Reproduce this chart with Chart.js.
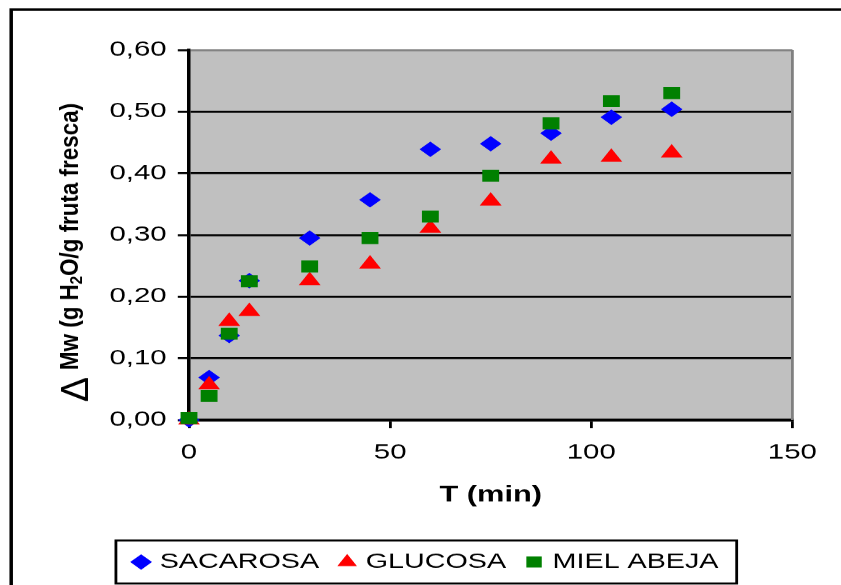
<!DOCTYPE html>
<html>
<head>
<meta charset="utf-8">
<script src="https://cdn.jsdelivr.net/npm/chart.js@4.4.1/dist/chart.umd.min.js"></script>
<style>
html, body { margin: 0; padding: 0; background: #fff; }
#grafico { display: block; }
</style>
</head>
<body>
<canvas id="grafico" width="601" height="585" style="width:841px;height:585px"></canvas>
<script>
// tiempo de deshidratación osmótica (min) y ganancia de agua perdida por soluto
const tiempos = [0, 5, 10, 15, 30, 45, 60, 75, 90, 105, 120];
const sacarosa = [0.000, 0.069, 0.137, 0.226, 0.295, 0.357, 0.439, 0.448, 0.465, 0.491, 0.504];
const glucosa = [0.000, 0.057, 0.160, 0.176, 0.226, 0.253, 0.311, 0.355, 0.423, 0.426, 0.433];
const mielAbeja = [0.003, 0.039, 0.140, 0.225, 0.249, 0.295, 0.330, 0.396, 0.481, 0.517, 0.530];

const ticksX = [0, 50, 100, 150];
const ticksY = [0, 0.1, 0.2, 0.3, 0.4, 0.5, 0.6];

const fuente = 'Arial, "Liberation Sans", sans-serif';

function puntos(valores) {
  return tiempos.map((t, i) => ({ x: t, y: valores[i] }));
}

// fondo gris, bordes, marco de la leyenda y título del eje Y
const marco = {
  id: 'marco',
  beforeDraw(chart) {
    const { ctx, chartArea: a } = chart;
    ctx.save();
    ctx.fillStyle = '#c0c0c0';
    ctx.fillRect(a.left, a.top, a.right - a.left, a.bottom - a.top);
    ctx.restore();
  },
  afterDraw(chart) {
    const { ctx, chartArea: a, legend } = chart;
    ctx.save();

    ctx.strokeStyle = '#808080';
    ctx.lineWidth = 2;
    ctx.beginPath();
    ctx.moveTo(a.right, a.top);
    ctx.lineTo(a.right, a.bottom);
    ctx.stroke();

    ctx.strokeStyle = '#000';
    ctx.lineWidth = 2.5;
    ctx.beginPath();
    ctx.moveTo(8, chart.height);
    ctx.lineTo(8, 9.5);
    ctx.lineTo(chart.width, 9.5);
    ctx.stroke();

    const cajas = legend.legendHitBoxes;
    const izq = Math.min(...cajas.map(c => c.left)) - 15;
    const der = Math.max(...cajas.map(c => c.left + c.width)) + 13;
    const cy = cajas[0].top + cajas[0].height / 2;
    ctx.lineWidth = 2;
    ctx.strokeRect(izq, cy - 21.5, der - izq, 43);

    ctx.fillStyle = '#000';
    ctx.textBaseline = 'alphabetic';
    ctx.textAlign = 'left';

    ctx.save();
    ctx.translate(63, a.bottom - 18);
    ctx.rotate(-Math.PI / 2);
    ctx.font = '28px ' + fuente;
    ctx.scale(25 / ctx.measureText('Δ').width, 1);
    ctx.fillText('Δ', 0, 0);
    ctx.restore();

    ctx.save();
    ctx.translate(55.7, a.bottom - 50);
    ctx.rotate(-Math.PI / 2);
    const partes = [
      ['Mw (g H', 'bold 18px ' + fuente, 0],
      ['2', 'bold 12px ' + fuente, 3],
      ['O/g fruta fresca)', 'bold 18px ' + fuente, 0]
    ];
    let total = 0;
    partes.forEach(p => { ctx.font = p[1]; total += ctx.measureText(p[0]).width; });
    ctx.scale(267 / total, 1);
    let x = 0;
    partes.forEach(p => {
      ctx.font = p[1];
      ctx.fillText(p[0], x, p[2]);
      x += ctx.measureText(p[0]).width;
    });
    ctx.restore();

    ctx.restore();
  }
};

new Chart(document.getElementById('grafico'), {
  type: 'scatter',
  data: {
    datasets: [
      {
        label: 'SACAROSA',
        data: puntos(sacarosa),
        pointStyle: 'rectRot',
        pointRadius: 7,
        backgroundColor: '#0000ff',
        borderColor: '#0000ff',
        borderWidth: 1,
        order: 3,
        clip: false
      },
      {
        label: 'GLUCOSA',
        data: puntos(glucosa),
        pointStyle: 'triangle',
        pointRadius: 8,
        backgroundColor: '#ff0000',
        borderColor: '#ff0000',
        borderWidth: 1,
        order: 2,
        clip: false
      },
      {
        label: 'MIEL ABEJA',
        data: puntos(mielAbeja),
        pointStyle: 'rect',
        pointRadius: 7.8,
        backgroundColor: '#008000',
        borderColor: '#008000',
        borderWidth: 1,
        order: 1,
        clip: false
      }
    ]
  },
  options: {
    responsive: false,
    devicePixelRatio: 1.4,
    animation: false,
    layout: { padding: { left: 45, right: 35, top: 50, bottom: 2.75 } },
    plugins: {
      tooltip: { enabled: false },
      legend: {
        position: 'bottom',
        labels: {
          usePointStyle: true,
          boxWidth: 6,
          boxHeight: 10,
          padding: 17,
          color: '#000',
          font: { family: fuente, size: 20.5 },
          sort: (a, b) => a.datasetIndex - b.datasetIndex
        }
      }
    },
    scales: {
      x: {
        type: 'linear',
        min: 0,
        max: 150,
        afterFit: s => { s.height = 114.75; },
        afterBuildTicks: s => { s.ticks = ticksX.map(v => ({ value: v })); },
        ticks: { color: '#000', font: { family: fuente, size: 21 }, padding: 12, maxRotation: 0 },
        grid: { drawOnChartArea: false, color: '#000', lineWidth: 2, tickLength: 8 },
        border: { color: '#000', width: 3 },
        title: {
          display: true,
          text: 'T (min)',
          color: '#000',
          font: { family: fuente, size: 22, weight: 'bold' },
          padding: { top: 0, bottom: 26.5 }
        }
      },
      y: {
        type: 'linear',
        min: 0,
        max: 0.6,
        afterFit: s => { s.width = 90; },
        afterBuildTicks: s => { s.ticks = ticksY.map(v => ({ value: v })); },
        ticks: {
          color: '#000',
          font: { family: fuente, size: 21 },
          padding: 8,
          callback: v => v.toFixed(2).replace('.', ',')
        },
        grid: {
          color: c => (c.tick && Math.abs(c.tick.value - 0.6) < 1e-9 ? '#808080' : '#000'),
          tickColor: '#000',
          lineWidth: 2,
          tickLength: 8
        },
        border: { color: '#000', width: 2.5 }
      }
    }
  },
  plugins: [marco]
});
</script>
</body>
</html>
